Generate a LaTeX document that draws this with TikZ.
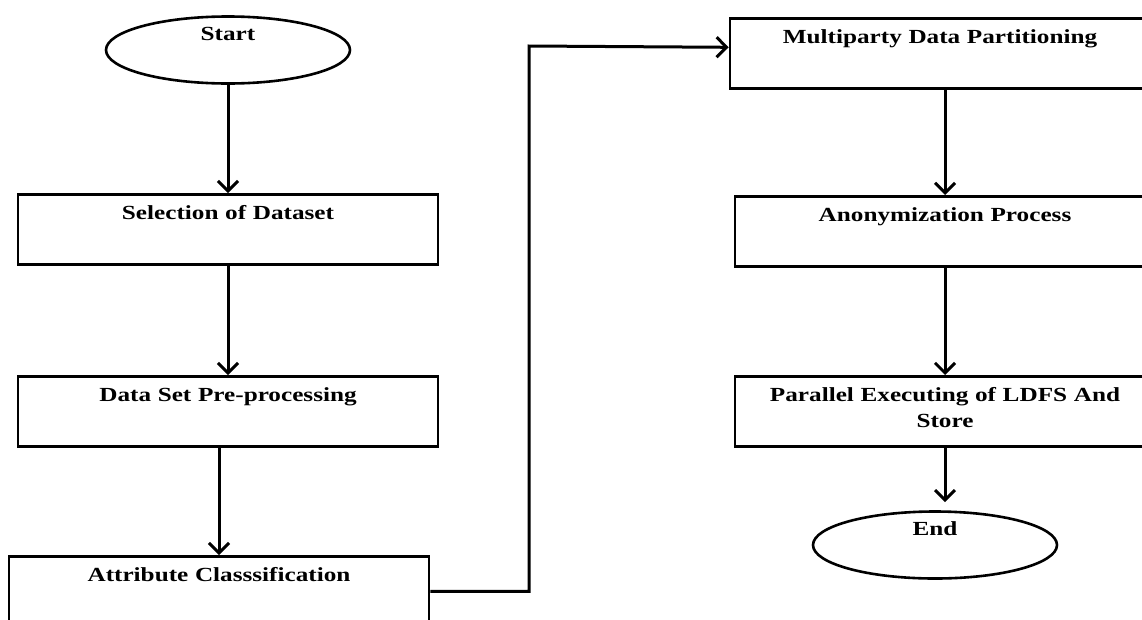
\documentclass[tikz,border=0pt]{standalone}
\usepackage{fontspec}
\setmainfont{Liberation Serif}[FakeStretch=1.26]
\usetikzlibrary{shapes.geometric, arrows.meta}
\newcommand*{\boxWidth}{420pt}
\newcommand*{\lineW}{2.6pt}

\begin{document}
\begin{tikzpicture}[x=1pt, y=-1pt,
    every node/.style={font=\fontsize{20}{26}\selectfont\bfseries},
    procBox/.style={draw, line width=\lineW, rectangle, anchor=north, inner sep=0pt, text width=\boxWidth, align=center, text height=25pt, text depth=45pt},
    termEll/.style={draw, line width=\lineW, ellipse, inner sep=0pt, minimum width=244pt, minimum height=67pt, text height=10pt, text depth=29pt},
    flow/.style={line width=3pt, -{Straight Barb[length=10pt, width=20pt]}}]
\useasboundingbox (0,0) rectangle (1142,619);
\clip (0,0) rectangle (1142,619);

% left column
\node[termEll] (start) at (228,50) {Start};
\node[procBox] (sel) at (228,193) {Selection of Dataset};
\node[procBox] (pre) at (228,375) {Data Set Pre-processing};
\node[procBox] (attr) at (219,555) {Attribute Classsification};

% right column
\node[procBox] (mp) at (940,17) {Multiparty Data Partitioning\hspace*{16pt}};
\node[procBox] (anon) at (945,195) {Anonymization Process};
\node[procBox] (par) at (945,375) {Parallel Executing of LDFS And\\Store};
\node[termEll] (end) at (935,545) {End};

\coordinate (turn) at (529,46);

\draw[flow] (start) -- (sel);
\draw[flow] (sel) -- (pre);
\draw[flow] (attr.north |- pre.south) -- (attr.north);
\draw[flow] (attr.east) -| (turn) -- ([yshift=6pt]mp.west);
\draw[flow] (anon.north |- mp.south) -- (anon.north);
\draw[flow] (anon) -- (par);
\draw[flow, shorten >=8pt] (par.south) -- (par.south |- end.north);
\end{tikzpicture}
\end{document}
